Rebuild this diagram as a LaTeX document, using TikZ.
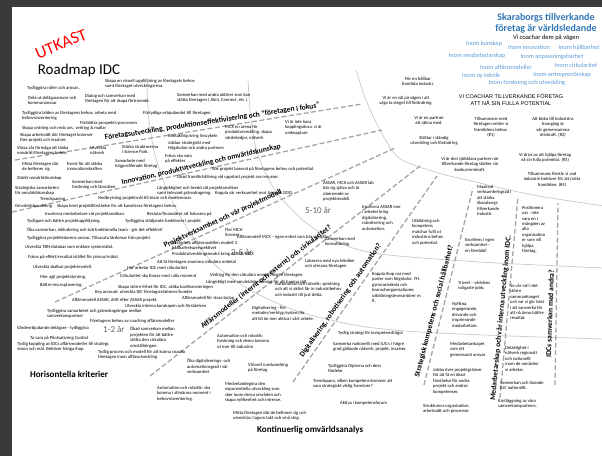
\documentclass[tikz,border=0pt]{standalone}
\usepackage{fontspec}
\setmainfont{Carlito}
\newfontfamily\capsfont{Liberation Sans}
\usepackage{tikz}

\definecolor{framegray}{RGB}{58,58,58}
\definecolor{spokegray}{RGB}{165,165,165}
\definecolor{ringgray}{RGB}{200,200,200}
\definecolor{yeargray}{RGB}{100,100,100}
\definecolor{visionblue}{RGB}{47,117,181}
\definecolor{inomblue}{RGB}{91,155,213}

\begin{document}
\begin{tikzpicture}[x=1pt,y=-1pt,
  note/.style={font=\fontsize{4.6}{5.4}\selectfont, inner sep=0pt, align=left, anchor=north west},
  cnote/.style={note, align=center, anchor=north},
  lane/.style={font=\fontsize{7.5}{7.5}\selectfont\bfseries, inner sep=0pt, anchor=base west},
  spoke/.style={draw=spokegray, line width=1.3pt, dash pattern=on 5pt off 2.5pt},
  ring/.style={draw=ringgray, line width=0.7pt},
  horizon/.style={font=\fontsize{9}{9}\selectfont, text=yeargray, inner sep=0pt, anchor=north west},
  inom/.style={font=\fontsize{6.3}{6.3}\selectfont, text=inomblue, inner sep=0pt},
  heading/.style={font=\fontsize{9}{9}\selectfont\bfseries, inner sep=0pt, anchor=north west}]
\useasboundingbox (0,0) rectangle (602,456);
% screenshot frame
\fill[framegray] (0,0) rectangle (602,7);
\fill[framegray] (0,0) rectangle (12,456);

% time rings
\draw[ring] plot[smooth] coordinates {(356,70) (366,100) (380,130) (399,158) (435,172) (467,180) (533,195) (604,206)};
\draw[ring] plot[smooth] coordinates {(248,80) (251,120) (258,155) (275,190) (305,222) (340,243) (380,254) (480,262) (604,268)};
\draw[ring] plot[smooth] coordinates {(147,88) (149,120) (155,155) (167,190) (185,225) (212,262) (250,290) (300,312) (360,326) (420,332) (510,336) (604,339)};

% spokes
\draw[spoke] (15,160) -- (362,104);
\draw[spoke] (12,212) -- (382,130);
\draw[spoke] (55,302) -- (395,148);
\draw[spoke] (150,376) -- (420,166);
\draw[spoke] (293,382) -- (437,176);
\draw[spoke] (424,385) -- (473,188);
\draw[spoke] (500,398) -- (518,196);
\draw[spoke] (555,385) -- (558,203);

\node[horizon] (kort) at (103,326) {1-2 år};
\node[horizon] (mellan) at (231,249) {2-5 år};
\node[horizon] (lang) at (305,207) {5-10 år};

% titles
\node[font=\fontsize{17}{17}\selectfont, text=red, rotate=22, inner sep=0pt] (utkast) at (61,44) {UTKAST};
\node[font=\fontsize{15}{15}\selectfont, inner sep=0pt] (roadmap) at (79,70) {Roadmap IDC};
\node[heading] (horisont) at (30,371) {Horisontella kriterier};
\node[heading] (omvarld) at (257,426) {Kontinuerlig omvärldsanalys};

% vision
\node[font=\fontsize{10}{11.5}\selectfont\bfseries, text=visionblue, align=center, inner sep=0pt, anchor=north] (vision) at (546,13) {Skaraborgs tillverkande\\företag är världsledande};
\node[font=\fontsize{6.5}{6.5}\selectfont, inner sep=0pt, anchor=north] (coachar) at (546,35) {Vi coachar dem på vägen};
\node[inom] (kunskap) at (484,44) {Inom kunskap};
\node[inom] (innovation) at (529,47) {Inom innovation};
\node[inom] (hallbarhet) at (579,47) {Inom hållbarhet};
\node[inom] (medarb) at (477,56) {Inom medarbetarskap};
\node[inom] (anpassning) at (552,57) {Inom anpassningsbarhet};
\node[inom] (affar) at (506,67) {Inom affärsmodeller};
\node[inom] (cirkular) at (576,65) {Inom cirkularitet};
\node[inom] (teknik) at (481,76) {Inom ny teknik};
\node[inom] (entrepren) at (562,75) {Inom entreprenörskap};
\node[inom] (forskning) at (527,83) {Inom forskning och utveckling};
\node[font=\fontsize{5.5}{6.6}\selectfont\capsfont, align=center, inner sep=0pt, anchor=north] (potential) at (511,94) {VI COACHAR TILLVERKANDE FÖRETAG\\ATT NÅ SIN FULLA POTENTIAL};
\node[cnote] (hallbar) at (418,77) {För en hållbar\\framtida industri.};
\node[cnote] (vagen) at (406,96) {Vi är en väl på vägen i att\\våga ta steget till förändring.};
\node[cnote] (partner) at (429,116) {Vi är en partner\\att räkna med.};
\node[cnote] (stottar) at (434,136) {Stöttar i ständig\\utveckling och förändring};
\node[cnote] (sjalvklar) at (470,157) {Vi är den självklara partner när\\tillverkande företag stärker sin\\konkurrenskraft.};
\node[cnote] (nr1) at (491,117) {Tillsammans med\\företagen möter vi\\framtidens behov.\\(\#1)};
\node[cnote] (nr2) at (553,117) {Att bidra till industrins\\framgång är\\vår gemensamma\\drivkraft. (\#2)};
\node[cnote] (nr3) at (545,153) {Vi drivs av att hjälpa företag\\nå sin fulla potential. (\#3)};
\node[cnote] (nr4) at (552,172) {Tillsammans förstår vi vad\\industrin behöver för att möta\\framtiden. (\#4)};

% lane 1 and 2
\node[note] (roller) at (27,86) {Tydliggöra roller och ansvar..};
\node[note] (delagare) at (28,96) {Dela ut delägaransvar och\\kommunansvar};
\node[note] (dialog) at (85,94) {Dialog och samverkan med\\företagen för att skapa förtroende.};
\node[note] (visuell) at (105,79) {Skapa en visuell uppföljning  av företagets behov\\samt företaget utvecklingsresa.};
\node[note] (aktorer) at (177,93) {Samverkan med andra aktörer som kan\\stötta företagen ( Almi, Connect, etc ).};
\node[note] (bilden) at (22,111) {Tydliggöra bilden  av företagens behov, arbeta med\\behovsinventering};
\node[note] (erbjud) at (143,111) {Förtydliga erbjudandet till företagen};
\node[note] (prospekt) at (80,121) {Förbättra prospekts-processen};
\node[note] (ordning) at (22,126) {Skapa ordning och reda avs. verktyg \& mallar};
\node[note] (arbetssatt) at (20,133) {Skapa arbetssätt där företaget kommer\\före projekt och insatser.};
\node[note] (kontakt) at (168,134) {Kontaktlöp kring livscykeln};
\node[note] (hogskolan) at (168,141) {Jobbar strategiskt med\\Högskolan och andra partners};
\node[note] (mcxarena) at (225,125) {MCX en arena för\\produktutveckling, skapa\\värdekedjor, nätverk};
\node[note] (omkopplare) at (285,120) {Vi är inte bara\\kopplingsdosa, vi är\\omkopplare};
\node[note] (vassa) at (17,146) {Vässa vår förmåga att tänka\\omvärld/företagens behov};
\node[note] (natverk) at (90,146) {Utveckla\\nätverk};
\node[note] (science) at (122,145) {Stärka strukturerna\\i Science Park.};
\node[note] (effekter) at (165,154) {Fokus ska vara\\på effekter};
\node[note] (mota) at (22,162) {Möta företagen där\\de befinner sig};
\node[note] (event) at (67,162) {Event för att stärka\\innovationskraften};
\node[note] (hogprofil) at (115,159) {Samarbete med\\högprofilerade företag};
\node[note] (starkt) at (17,176) {Stärkt omvärldskunskap};
\node[note] (larosaten) at (72,180) {Samverkan med\\forskning och lärosäten};
\node[note] (strategiska) at (15,186) {Strategiska samarbeten\\för omvärldskunskap};
\node[note] (trend) at (40,197) {Trendspaning};
\node[note] (bevakning) at (15,204) {Omvärldsbevakning};

% lane 3
\node[note] (sokprojekt) at (212,167) {Sök projekt baserat på företagens behov och potential.};
\node[note] (framfor) at (177,175) {Ökad framförhållning vid uppstart projekt avs resurser.};
\node[note] (bredd) at (157,186) {Långsiktighet och bredd vid projektansökan\\samt relevant gränsdragning.};
\node[note] (agenda) at (215,191) {Koppla vår verksamhet mot Agenda 2030.};
\node[note] (nedbrytning) at (98,196) {Nedbrytning projektmål till team och medlemmar.};
\node[note] (bred) at (57,204) {Skapa bred projektförståelse för att kanalisera företagens behov.};
\node[note] (involvera) at (45,212) {Involvera medarbetare vid projektansökan.};
\node[note] (besluta) at (147,212) {Besluta/finansiärer att fokusera på};
\node[note] (uppfolj) at (27,219) {Tydligare och bättre projektuppföljning.};
\node[note] (stodjande) at (125,219) {Tydliggöra stödjande funktioner i projekt};
\node[note] (tvarfunk) at (27,228) {Öka samverkan, inkludering och tvärfunktionella team - gör det effektivt!};
\node[note] (ledare) at (27,236) {Tydliggöra projektledarens ansvar.  Tillvarata lärdomar från projekt.};
\node[note] (tbn) at (25,245) {Utveckla TBN-databas som enklare systemstöd.};
\node[note] (pinnar) at (28,255) {Fokus på effekt/resultat istället för pinnar/mätal.};
\node[note] (skalbar) at (33,265) {Utveckla skalbar projektmodell.};
\node[note] (agil) at (40,275) {Mer agil projektstyrning.};
\node[note] (resurs) at (40,283) {Bättre resursplanering.};
\node[note] (assarlab) at (323,181) {ASSAR, MCX och ASSAR lab\\bär sig själva och är\\oberoende av\\projektmodell.};

% lane 4
\node[note] (licenser) at (225,228) {Fler MCX-\\licenser};
\node[note] (mcxenhet) at (237,235) {Affärsmodell MCX – egen enhet som bär sig själv.};
\node[note] (modell3) at (172,241) {Utvärdera affärsmodellen modell 3\\hållbarhetsperspektivet\\Produktutvecklingsmodul kring ASSAR/MCX};
\node[note] (matetal) at (157,260) {Att få företagen anamma cirkulära mätetal};
\node[note] (hurarbetar) at (127,266) {Hur arbetar IDC med cirkularitet};
\node[note] (allamoment) at (120,274) {Cirkularitet ska finnas med i alla moment};
\node[note] (verktyg) at (210,273) {Verktyg för den cirkulära omställningen företagen.};
\node[note] (hamna) at (206,280) {Långsiktigt med omvärldsbevakning för att hamna rätt};
\node[note] (frihet) at (118,285) {Skapa större frihet för IDC, utöka basfinansieringen};
\node[note] (keyacc) at (95,290) {Key account, utveckla IDC företagsrelationer/kunder};
\node[note] (storabolag) at (182,296) {Affärsmodell för stora bolag};
\node[note] (assardrift) at (72,298) {Affärsmodell ASSAR, drift efter ASSAR projekt.};
\node[note] (interna) at (125,304) {Utveckla interna kunskapen och förståelsen};
\node[note] (gransdrag) at (47,309) {Tydliggöra  samarbetet  och gränsdragningar mellan\\samverkanspartner};
\node[note] (coaching) at (90,319) {Företagens behov av coaching affärsmodeller};
\node[note] (delagarvarde) at (17,326) {Värdeerbjudande delägare - tydliggöra};
\node[note] (omstallning) at (130,327) {Ökad samverkan mellan\\projekten för att bättre\\stötta den cirkulära\\omställningen.};
\node[note] (cordial) at (30,336) {Ta vara på Pilotsatsning Cordial};
\node[note] (koppling) at (17,342) {Tydlig koppling av IDCs affärsmodeller till strategi,\\vision och mål. Behöver hänga ihop};
\node[note] (process) at (98,350) {Tydlig process och  modell för att kunna coacha\\företagen inom affärsutveckling};

% lane 5
\node[note] (involvassar) at (362,205) {Involvera ASSAR mer\\i arbetet kring\\digitalisering,\\robotisering och\\automation.};
\node[note] (konsult) at (325,237) {Samverkan med\\konsultbolag.};
\node[note] (laborera) at (305,259) {Laborera med nya tekniker\\och utmana företagen};
\node[note] (spridning) at (275,282) {Automation och robotik: spridning\\och att vi aktivt får in industribehov\\och industri till just detta.};
\node[note] (metoder) at (252,306) {Digitalisering  - fler\\metoder/verktyg/system för\\att bli än mer aktiva i vårt arbete.};
\node[note] (demo) at (217,334) {Automation  och  robotik:\\forskning  och demo komma\\ut mer till industrin};
\node[note] (diggrad) at (187,359) {Öka digitaliserings- och\\automationsgrad i vår\\verksamhet};
\node[note] (rundvand) at (248,363) {Virtuell rundvandring\\på företag};
\node[note] (allmanna) at (157,386) {Automation och robotik: ska\\komma i allmänna moment i\\behovsinventering.};
\node[note] (exponent) at (225,382) {Medvetandegöra  den\\exponentiella utveckling som\\sker inom dessa områden och\\skapa nyfikenhet och intresse.};
\node[note] (lagomtakt) at (233,411) {Möta företagen där de befinner sig och\\utvecklas i lagom takt och små steg.};

% lane 6
\node[note] (utbildning) at (412,219) {Utbildning och\\kompetens\\matchar fullt ut\\industrins behov\\och potential.};
\node[note] (kopplaihop) at (372,272) {Koppla ihop oss med\\parter som högskolor, YH,\\gymnasieskola och\\branschorganisationer,\\utbildningsleverantörer m\\fl.};
\node[note] (kompstrategi) at (338,331) {Tydlig strategi för kompetensfrågor};
\node[note] (nationellt) at (333,342) {Samverka nationellt  med IUC:s i högre\\grad gällande nätverk, projekt, insatser.};
\node[note] (diploma) at (328,364) {Tydliggöra Diploma och dess\\fördelar};
\node[note] (trendspana) at (313,379) {Trendspana, vilken kompetens kommer att\\vara strategiskt viktig framöver?};
\node[note] (kompforum) at (340,401) {Aktiva i kompetensforum};

% lane 7
\node[note] (maximal) at (477,185) {Maximal\\verksamhetsgrad i\\att stärka\\Skaraborgs\\tillverkande\\industri.};
\node[note] (excellens) at (465,238) {Excellens i egen\\verksamhet –\\en förebild!};
\node[note] (trivsel) at (458,281) {Trivsel – världens\\roligaste jobb.};
\node[note] (nyfikna) at (452,302) {Nyfikna,\\engagerande,\\drivande och\\inspirerande\\medarbetare.};
\node[note] (gemensamt) at (450,342) {Medarbetarskapet\\som ett\\gemensamt  ansvar};
\node[note] (projgrans) at (433,368) {Jobba över projektgränser\\för att få en ökad\\förståelse för andra\\projekt och andras\\kompetenser.};
\node[note] (strukturera) at (423,404) {Strukturera organisation,\\arbetssätt och processer.};

% lane 8
\node[note] (positionera) at (522,206) {Positionera\\oss - inte\\vara en i\\mängden av\\alla\\organisation\\er som vill\\hjälpa\\företag.};
\node[note] (sammanhang) at (510,284) {Se vår roll i det\\större\\sammanhanget\\och var vi gör bäst\\i att samverka för\\att nå ännu bättre\\resultat.};
\node[note] (delaktighet) at (505,346) {Delaktighet i\\nätverk regionalt\\och nationellt\\inom de områden\\vi arbetar.};
\node[note] (larande) at (500,381) {Samverkan och lärande\\IUC nationellt.};
\node[note] (kartlagg) at (498,399) {Kartläggning av våra\\samverkanspartners.};

% lane labels
\node[lane, rotate=8.6] (foretag) at (105,140) {Företagsutveckling, produktionseffektivisering och “företagen i fokus”};
\node[lane, rotate=13] (innov) at (122,185) {Innovation, produktutveckling och omvärldskunskap};
\node[lane, rotate=25] (projekt) at (165,248) {Projektverksamhet och vår projektmodell};
\node[lane, rotate=38] (affarsmod) at (203,329) {Affärsmodeller (internt och externt) och cirkularitet?};
\node[lane, rotate=55] (digital) at (303,358) {Digitalisering, robotisering och automation?};
\node[lane, rotate=75.5] (kompetens) at (419,378) {Strategisk kompetens och social hållbarhet?};
\node[lane, rotate=84.5] (medarbetar) at (495,401) {Medarbetarskap och vår interna utveckling inom IDC.};
\node[lane, rotate=88] (samverkan) at (551,358) {IDCs samverkan med andra?};
\end{tikzpicture}
\end{document}
